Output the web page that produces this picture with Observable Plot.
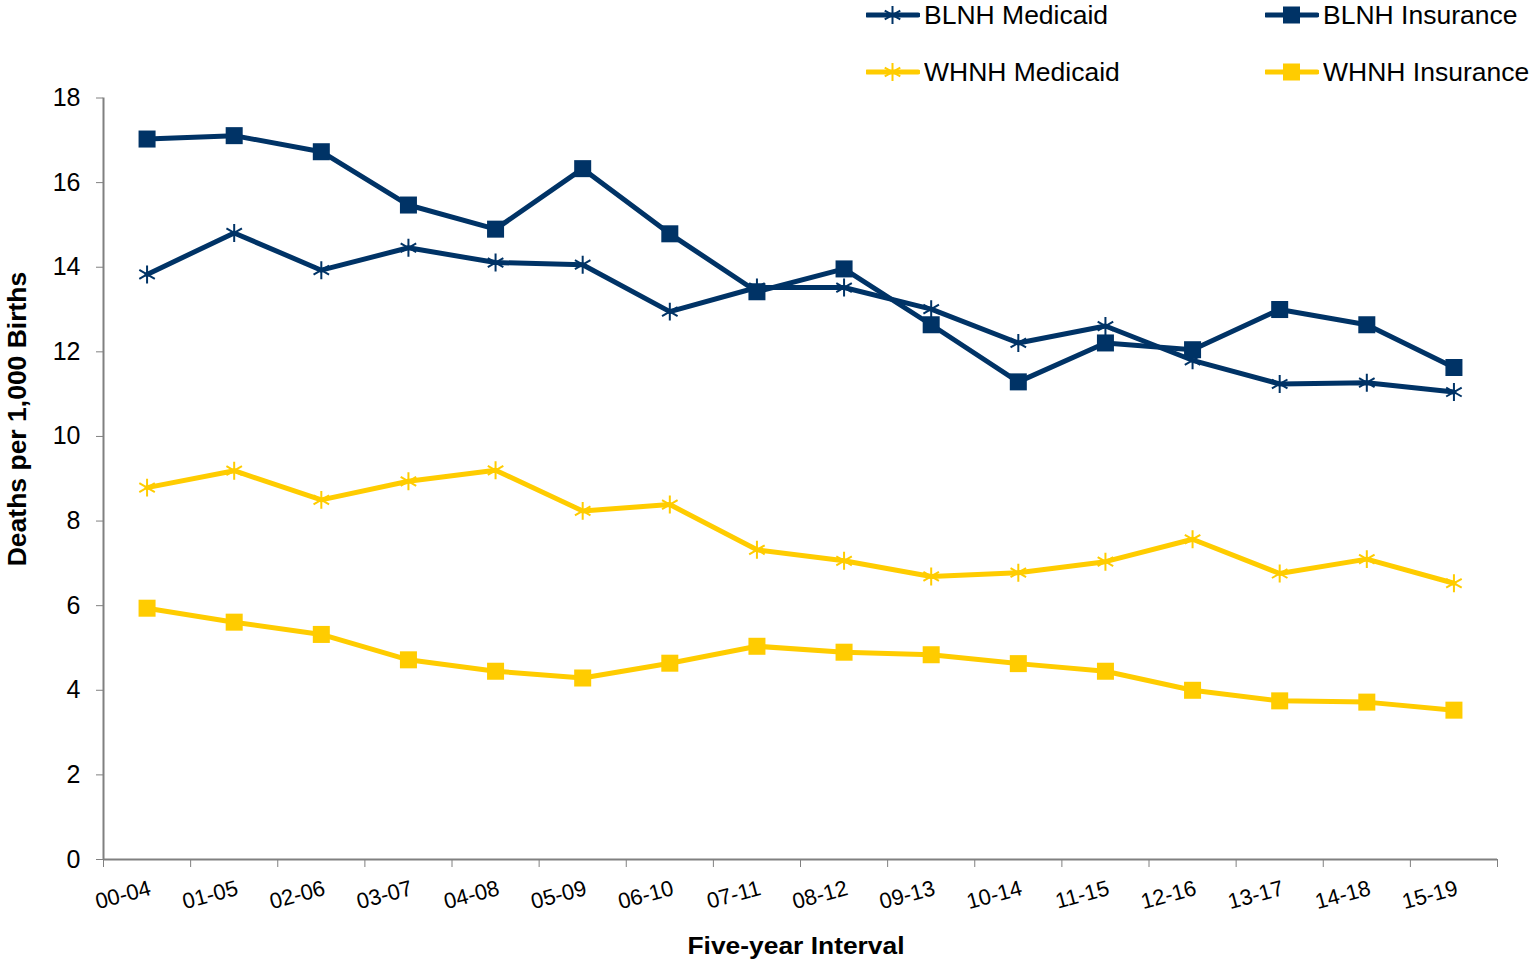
<!DOCTYPE html>
<html>
<head>
<meta charset="utf-8">
<script src="https://cdn.jsdelivr.net/npm/d3@7"></script>
<script src="https://cdn.jsdelivr.net/npm/@observablehq/plot@0.6"></script>
<style>
  html, body { margin: 0; padding: 0; background: #fff; }
  body { width: 1530px; height: 959px; overflow: hidden; font-family: "Liberation Sans", Arial, sans-serif; }
  #legend { position: relative; width: 1530px; height: 88px; }
  .item { position: absolute; display: flex; align-items: center; font-size: 25px; color: #000; white-space: nowrap; }
  .item svg { display: block; margin-right: 4px; flex: none; }
  .item span { display: inline-block; transform: scaleX(1.06); transform-origin: left center; }
  #chart svg { display: block; }
</style>
</head>
<body>
<div id="legend"></div>
<div id="chart"></div>
<script>
const categories = ["00-04","01-05","02-06","03-07","04-08","05-09","06-10","07-11","08-12","09-13","10-14","11-15","12-16","13-17","14-18","15-19"];
const blnhMedicaid  = [13.83,14.81,13.93,14.46,14.11,14.06,12.95,13.52,13.52,13.01,12.21,12.61,11.80,11.24,11.27,11.05];
const blnhInsurance = [17.03,17.11,16.73,15.47,14.90,16.33,14.79,13.42,13.96,12.64,11.29,12.21,12.05,13.00,12.64,11.63];
const whnhMedicaid  = [8.79,9.19,8.50,8.94,9.20,8.24,8.39,7.32,7.06,6.69,6.78,7.04,7.57,6.76,7.10,6.53];
const whnhInsurance = [5.94,5.61,5.32,4.72,4.45,4.29,4.64,5.04,4.90,4.84,4.63,4.45,4.00,3.75,3.72,3.53];
const seriesNames = ["BLNH Medicaid","BLNH Insurance","WHNH Medicaid","WHNH Insurance"];
const seriesValues = [blnhMedicaid, blnhInsurance, whnhMedicaid, whnhInsurance];
const seriesColors = ["#003366","#003366","#FFCC00","#FFCC00"];
const seriesSymbols = ["asterisk","square","asterisk","square"];
const yTicks = [0,2,4,6,8,10,12,14,16,18];

const AXIS = "#808080";

// Legend
const legend = document.getElementById("legend");
const legendPos = [[866, 15],[1265, 15],[866, 72],[1265, 72]];
seriesNames.forEach((name, k) => {
  const div = document.createElement("div");
  div.className = "item";
  div.style.left = legendPos[k][0] + "px";
  div.style.top = (legendPos[k][1] - 14) + "px";
  div.style.height = "28px";
  const s = d3.create("svg").attr("width", 54).attr("height", 28);
  s.append("line").attr("x1", 1).attr("x2", 52).attr("y1", 14).attr("y2", 14)
    .attr("stroke", seriesColors[k]).attr("stroke-width", 5).attr("stroke-linecap", "round");
  if (seriesSymbols[k] === "square") {
    s.append("rect").attr("x", 26.5 - 8.5).attr("y", 14 - 8.5).attr("width", 17).attr("height", 17).attr("fill", seriesColors[k]);
  } else {
    s.append("path").attr("transform", "translate(26.5,14)")
      .attr("d", d3.symbol(d3.symbolAsterisk, Math.PI * 8.5 * 8.5)())
      .attr("stroke", seriesColors[k]).attr("stroke-width", 2).attr("fill", "none");
  }
  div.appendChild(s.node());
  const t = document.createElement("span");
  t.textContent = name;
  div.appendChild(t);
  legend.appendChild(div);
});

// Tidy data
const data = [];
seriesNames.forEach((name, k) => {
  seriesValues[k].forEach((v, i) => data.push({series: name, idx: i + 0.5, cat: categories[i], value: v}));
});
const catData = categories.map((c, i) => ({cat: c, idx: i + 0.5}));

const marks = [
  Plot.ruleY([0], {stroke: AXIS, strokeWidth: 2}),
  Plot.ruleX([0], {stroke: AXIS, strokeWidth: 2}),
  Plot.axisY({ticks: yTicks, tickSize: 7, tickPadding: 16, fontSize: 25, label: null, stroke: AXIS, fill: "#000"}),
  Plot.axisX({ticks: d3.range(17), tickSize: 8, tickFormat: () => "", label: null, stroke: AXIS}),
  Plot.text(catData, {x: "idx", y: () => 0, text: "cat", rotate: -15, textAnchor: "end", lineAnchor: "top", dy: 20, dx: 1, fontSize: 22, fill: "#000"})
];
seriesNames.forEach((name, k) => {
  const sd = data.filter(d => d.series === name);
  marks.push(Plot.line(sd, {x: "idx", y: "value", stroke: seriesColors[k], strokeWidth: 5, strokeLinejoin: "round"}));
  if (seriesSymbols[k] === "square") {
    marks.push(Plot.dot(sd, {x: "idx", y: "value", symbol: "square", r: 9.6, fill: seriesColors[k], stroke: "none"}));
  } else {
    marks.push(Plot.dot(sd, {x: "idx", y: "value", symbol: "asterisk", r: 8.5, stroke: seriesColors[k], strokeWidth: 2, fill: "none"}));
  }
});

const chart = Plot.plot({
  width: 1530,
  height: 871,
  marginLeft: 103,
  marginRight: 33,
  marginTop: 9.5,
  marginBottom: 100,
  style: {fontFamily: '"Liberation Sans", Arial, sans-serif', background: "#fff", color: "#000", overflow: "visible"},
  x: {type: "linear", domain: [0, 16], axis: null},
  y: {domain: [0, 18], axis: null},
  marks
});

const svg = d3.select(chart);
svg.append("text")
  .attr("transform", "translate(17,331) rotate(-90)")
  .attr("text-anchor", "middle")
  .attr("dominant-baseline", "central")
  .attr("font-size", 26.5).attr("font-weight", "bold").attr("fill", "#000")
  .text("Deaths per 1,000 Births");
svg.append("text")
  .attr("transform", "translate(796,866) scale(1.1,1)")
  .attr("x", 0).attr("y", 0)
  .attr("text-anchor", "middle")
  .attr("font-size", 24).attr("font-weight", "bold").attr("fill", "#000")
  .text("Five-year Interval");

document.getElementById("chart").appendChild(chart);
</script>
</body>
</html>
